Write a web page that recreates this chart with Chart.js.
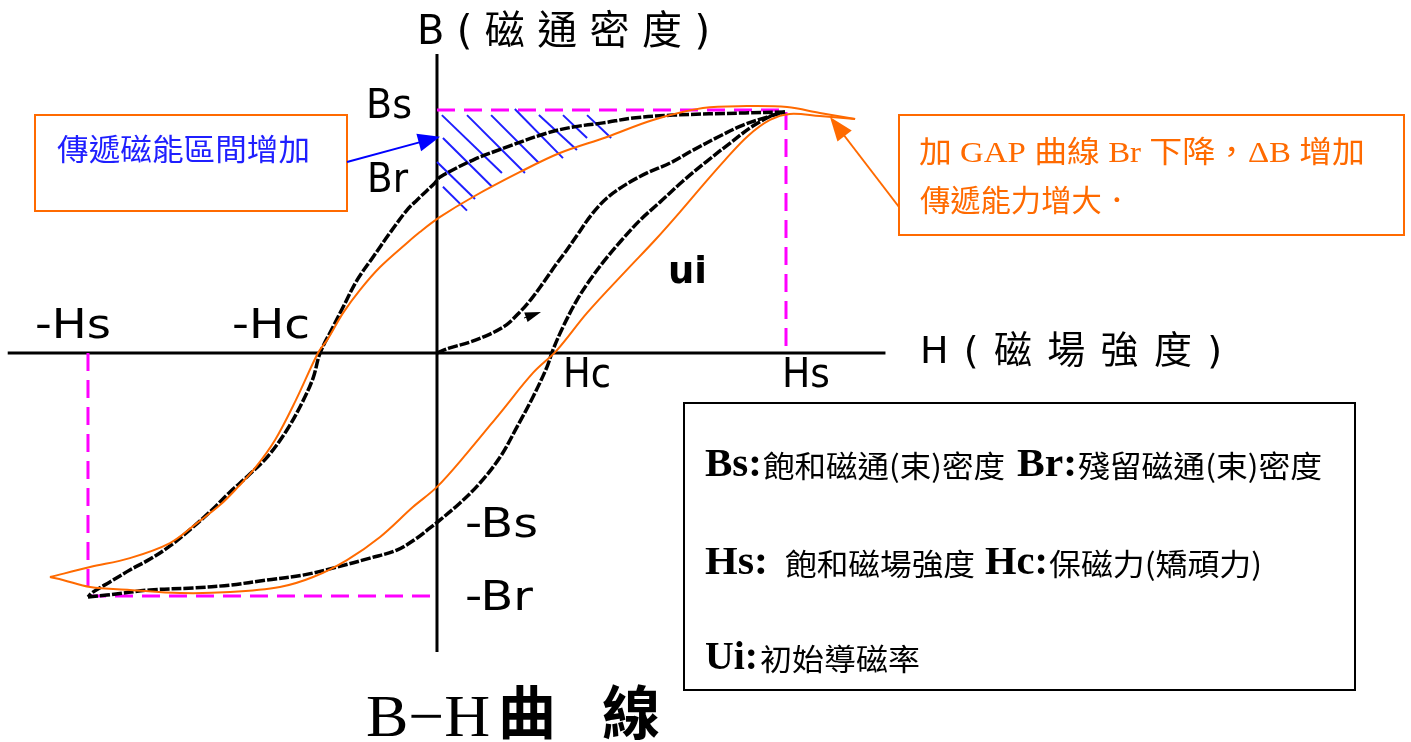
<!DOCTYPE html>
<html>
<head>
<meta charset="utf-8">
<title>B-H 曲線</title>
<script src="https://cdn.jsdelivr.net/npm/chart.js@4.4.1/dist/chart.umd.min.js"></script>
<style>
  html, body { margin: 0; padding: 0; background: #fff; }
  canvas { display: block; }
</style>
</head>
<body>
<canvas id="bhChart" width="1411" height="742"></canvas>
<script>
// saturation point (Hs, Bs)
const satH = 10;
const satB = 10;

// outer loop, descending branch: from +Hs/+Bs through Br and -Hc down to the lower corner
const outerDownH = [9.97, 8.83, 6.76, 5.62, 4.76, 3.90, 3.15, 2.01, 1.03, 0.09, -0.06, -0.57, -0.86, -1.35, -1.83, -2.29, -2.69, -2.98, -3.35, -3.55, -3.87, -4.30, -4.84, -5.42, -5.93, -6.45, -7.02, -7.65, -8.22, -8.80, -9.37, -9.86, -10.0];
const outerDownB = [9.92, 9.88, 9.79, 9.67, 9.47, 9.30, 9.05, 8.48, 7.94, 7.24, 7.00, 6.30, 5.88, 4.94, 3.95, 3.00, 1.89, 1.07, 0.00, -1.03, -2.06, -3.17, -4.24, -5.06, -5.72, -6.46, -7.20, -7.94, -8.48, -8.93, -9.42, -9.84, -10.04];

// outer loop, ascending branch: from the lower corner through Hc back to saturation
const outerUpH = [-10.0, -9.46, -8.22, -6.99, -5.93, -4.87, -3.84, -2.87, -1.92, -1.15, -0.57, -0.20, 0.09, 0.66, 1.23, 1.81, 2.29, 2.75, 3.15, 3.32, 3.61, 4.01, 4.38, 4.79, 5.27, 5.82, 6.39, 7.05, 7.74, 8.40, 9.05, 9.63, 9.97];
const outerUpB = [-10.04, -9.96, -9.75, -9.67, -9.55, -9.34, -9.14, -8.81, -8.44, -8.11, -7.61, -7.20, -6.87, -6.17, -5.35, -4.28, -3.05, -1.81, -0.58, 0.12, 1.07, 2.18, 3.00, 3.79, 4.61, 5.47, 6.21, 7.08, 7.90, 8.64, 9.34, 9.79, 9.92];

// initial magnetization curve (slope at origin = Ui)
const initialH = [0, 0.37, 0.95, 1.52, 1.98, 2.35, 2.70, 3.04, 3.40, 3.72, 4.04, 4.42, 4.87, 5.44, 6.02, 6.68, 7.34, 8.11, 8.77, 9.46, 9.97];
const initialB = [0, 0.21, 0.45, 0.78, 1.15, 1.65, 2.22, 2.88, 3.62, 4.24, 4.90, 5.68, 6.38, 6.96, 7.41, 7.82, 8.35, 8.93, 9.38, 9.71, 9.92];

// loop with an air gap, descending branch
const gapDownH = [11.98, 10.97, 10.03, 8.88, 7.62, 6.19, 4.87, 3.52, 2.38, 1.03, 0.09, -0.49, -0.86, -1.63, -2.21, -2.69, -3.15, -3.41, -4.04, -4.64, -5.21, -5.70, -6.22, -6.88, -7.65, -8.80, -9.94, -11.09];
const gapDownB = [9.63, 9.88, 10.12, 10.16, 10.08, 9.59, 8.89, 8.23, 7.45, 6.42, 5.60, 4.98, 4.53, 3.54, 2.59, 1.65, 0.53, 0.00, -1.93, -3.58, -4.73, -5.51, -6.26, -7.00, -7.82, -8.44, -8.81, -9.22];

// loop with an air gap, ascending branch
const gapUpH = [-11.09, -10.72, -9.94, -8.80, -7.36, -5.93, -4.50, -3.55, -2.58, -1.63, -0.69, 0, 0.86, 1.81, 2.75, 3.44, 4.30, 5.44, 6.25, 6.96, 7.62, 8.25, 8.91, 9.54, 10.11, 10.97, 11.98];
const gapUpB = [-9.22, -9.34, -9.63, -9.75, -9.88, -9.84, -9.63, -9.22, -8.52, -7.57, -6.34, -5.51, -4.12, -2.47, -0.82, 0.12, 1.65, 3.42, 4.65, 5.80, 6.91, 7.94, 8.93, 9.59, 9.84, 9.75, 9.63];

// hatching of the extra energy band between Bs and the gapped curve
const hatchStartH = [0.14, 0.86, 1.55, 2.23, 2.92, 3.61, 4.30, 0.17, 0.00, 0.17];
const hatchStartB = [9.79, 9.79, 9.79, 10.04, 9.79, 9.79, 9.79, 8.85, 7.86, 6.84];
const hatchEndH = [1.86, 2.52, 2.92, 3.61, 4.01, 4.30, 4.99, 1.58, 1.09, 0.86];
const hatchEndB = [7.41, 7.41, 7.82, 8.02, 8.35, 8.85, 8.85, 6.84, 6.34, 5.86];

// axis extents
const axisH = [-12.3, 12.85];
const axisB = [12.3, -12.3];

const ORANGE = '#ff6a00';
const MAGENTA = '#ff00ff';
const BLUE = '#1f1fff';

function pts(hs, bs) {
  return hs.map((h, i) => ({ x: h, y: bs[i] }));
}

function curve(hs, bs, color, width, dash, order, tension) {
  return {
    data: pts(hs, bs),
    showLine: true,
    borderColor: color,
    borderWidth: width,
    borderDash: dash || [],
    pointRadius: 0,
    tension: tension || 0,
    order: order
  };
}

const datasets = [
  curve(gapDownH, gapDownB, ORANGE, 2, null, 0, 0.35),
  curve(gapUpH, gapUpB, ORANGE, 2, null, 0, 0.35),
  curve(outerDownH, outerDownB, '#000', 3.5, [10, 2], 1, 0.35),
  curve(outerUpH, outerUpB, '#000', 3.5, [10, 2], 1, 0.35),
  curve(initialH, initialB, '#000', 3.5, [10, 2], 1, 0.35),
  curve([0, satH, satH], [satB, satB, 0], MAGENTA, 3, [18, 9], 3),
  curve([-satH, -satH, 0], [0, -satB, -satB], MAGENTA, 3, [18, 9], 3),
  curve(axisH, [0, 0], '#000', 3, null, 4),
  curve([0, 0], axisB, '#000', 3, null, 4)
];
hatchStartH.forEach((h, i) => {
  datasets.push(curve([h, hatchEndH[i]], [hatchStartB[i], hatchEndB[i]], BLUE, 2, null, 2));
});

// text drawn on top of the plot; `spread` widens with letter spacing instead of stretching
const notes = [
  { t: 'B(磁通密度)', x: 417, y: 44, w: 293, f: '40px "DejaVu Sans", "Noto Sans CJK TC"', spread: true },
  { t: 'H(磁場強度)', x: 920, y: 363, w: 302, f: '38px "DejaVu Sans", "Noto Sans CJK TC"', spread: true },
  { t: 'Bs', x: 366, y: 118, w: 46, f: '40px "DejaVu Sans"' },
  { t: 'Br', x: 367, y: 192, w: 41, f: '40px "DejaVu Sans"' },
  { t: '-Hs', x: 35, y: 338, w: 76, f: '40px "DejaVu Sans"' },
  { t: '-Hc', x: 232, y: 338, w: 78, f: '40px "DejaVu Sans"' },
  { t: 'Hc', x: 563, y: 387, w: 48, f: '40px "DejaVu Sans"' },
  { t: 'Hs', x: 782, y: 387, w: 48, f: '40px "DejaVu Sans"' },
  { t: '-Bs', x: 465, y: 537, w: 73, f: '40px "DejaVu Sans"' },
  { t: '-Br', x: 465, y: 610, w: 68, f: '40px "DejaVu Sans"' },
  { t: 'ui', x: 668, y: 283, w: 39, f: 'bold 38px "DejaVu Sans"' },
  { t: 'B−H', x: 366, y: 736, w: 124, f: '60px "Liberation Serif"' },
  { t: '曲線', x: 498, y: 734, w: 162, f: 'bold 58px "Noto Sans CJK TC"', spread: true },
  { t: '傳遞磁能區間增加', x: 57, y: 160, w: 253, f: '30px "Noto Sans CJK TC"', c: BLUE },
  { t: '加 GAP 曲線 Br 下降，ΔB 增加', x: 919, y: 162, w: 446, f: '30px "Liberation Serif", "Noto Sans CJK TC"', c: ORANGE },
  { t: '傳遞能力增大．', x: 920, y: 211, w: 212, f: '30px "Noto Sans CJK TC"', c: ORANGE },
  { t: 'Bs:', x: 705, y: 476, w: 57, f: 'bold 40px "Liberation Serif"' },
  { t: '飽和磁通(束)密度', x: 763, y: 477, w: 242, f: '30px "Noto Sans CJK TC"' },
  { t: 'Br:', x: 1017, y: 476, w: 60, f: 'bold 40px "Liberation Serif"' },
  { t: '殘留磁通(束)密度', x: 1078, y: 477, w: 244, f: '30px "Noto Sans CJK TC"' },
  { t: 'Hs:', x: 705, y: 574, w: 63, f: 'bold 40px "Liberation Serif"' },
  { t: '飽和磁場強度', x: 785, y: 575, w: 190, f: '30px "Noto Sans CJK TC"' },
  { t: 'Hc:', x: 985, y: 574, w: 63, f: 'bold 40px "Liberation Serif"' },
  { t: '保磁力(矯頑力)', x: 1049, y: 575, w: 213, f: '30px "Noto Sans CJK TC"' },
  { t: 'Ui:', x: 705, y: 669, w: 53, f: 'bold 40px "Liberation Serif"' },
  { t: '初始導磁率', x: 760, y: 670, w: 160, f: '30px "Noto Sans CJK TC"' }
];

function drawNote(ctx, n) {
  ctx.save();
  ctx.font = n.f;
  ctx.fillStyle = n.c || '#000';
  ctx.textBaseline = 'alphabetic';
  ctx.textAlign = 'left';
  ctx.letterSpacing = '0px';
  const w = ctx.measureText(n.t).width;
  if (n.spread) {
    const gaps = Array.from(n.t).length - 1;
    ctx.letterSpacing = Math.max(0, (n.w - w) / gaps) + 'px';
    ctx.fillText(n.t, n.x, n.y);
  } else {
    ctx.translate(n.x, n.y);
    ctx.scale(n.w / w, 1);
    ctx.fillText(n.t, 0, 0);
  }
  ctx.restore();
}

function arrow(ctx, x0, y0, x1, y1, color, width, len, half) {
  const a = Math.atan2(y1 - y0, x1 - x0);
  ctx.save();
  ctx.strokeStyle = color;
  ctx.fillStyle = color;
  ctx.lineWidth = width;
  ctx.beginPath();
  ctx.moveTo(x0, y0);
  ctx.lineTo(x1 - Math.cos(a) * len * 0.8, y1 - Math.sin(a) * len * 0.8);
  ctx.stroke();
  ctx.beginPath();
  ctx.moveTo(x1, y1);
  ctx.lineTo(x1 - Math.cos(a) * len - Math.sin(a) * half, y1 - Math.sin(a) * len + Math.cos(a) * half);
  ctx.lineTo(x1 - Math.cos(a) * len + Math.sin(a) * half, y1 - Math.sin(a) * len - Math.cos(a) * half);
  ctx.closePath();
  ctx.fill();
  ctx.restore();
}

const annotations = {
  id: 'annotations',
  afterDatasetsDraw(chart) {
    const ctx = chart.ctx;
    const xs = chart.scales.x, ys = chart.scales.y;

    // boxes
    ctx.save();
    ctx.lineWidth = 2;
    ctx.strokeStyle = ORANGE;
    ctx.strokeRect(35, 115, 312, 96);
    ctx.strokeRect(899, 115, 505, 120);
    ctx.strokeStyle = '#000';
    ctx.strokeRect(684, 403, 671, 287);
    ctx.restore();

    // callout arrows
    arrow(ctx, 347, 162, xs.getPixelForValue(0) + 3, ys.getPixelForValue(8.9), '#0000ff', 2, 22, 9);
    arrow(ctx, 899, 207, 830, 117, ORANGE, 2, 24, 9);
    // direction marker on the initial magnetization curve
    arrow(ctx, 524, 318, 541, 312, '#000', 1, 16, 5);

    notes.forEach(n => drawNote(ctx, n));
  }
};

new Chart(document.getElementById('bhChart'), {
  type: 'scatter',
  data: { datasets: datasets },
  options: {
    responsive: false,
    animation: false,
    layout: { padding: 0 },
    scales: {
      x: { type: 'linear', display: false, min: -12.521, max: 27.908 },
      y: { type: 'linear', display: false, min: -16.008, max: 14.527 }
    },
    plugins: {
      legend: { display: false },
      tooltip: { enabled: false }
    }
  },
  plugins: [annotations]
});
</script>
</body>
</html>
